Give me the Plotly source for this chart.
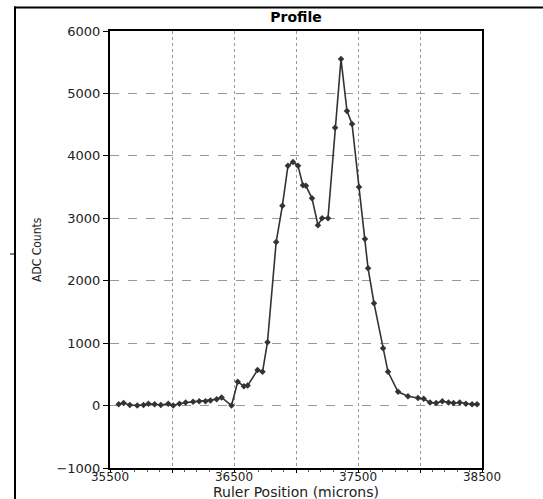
import plotly.graph_objects as go

# Data
position_um = [35570, 35610, 35660, 35720, 35770, 35810, 35860, 35910, 35970, 36010,
               36060, 36110, 36170, 36220, 36270, 36310, 36360, 36400, 36480, 36530,
               36580, 36610, 36690, 36730, 36770, 36840, 36890, 36935, 36976, 37016,
               37056, 37080, 37129, 37177, 37210, 37258, 37315, 37363, 37411, 37452,
               37508, 37556, 37581, 37629, 37702, 37742, 37823, 37903, 37984, 38030,
               38081, 38130, 38180, 38230, 38270, 38320, 38370, 38420, 38460]
adc_counts = [20, 40, 10, 0, 10, 30, 20, 10, 30, 0,
              30, 50, 60, 70, 70, 80, 100, 130, 0, 380,
              310, 320, 570, 540, 1015, 2620, 3200, 3840, 3900, 3840,
              3530, 3520, 3320, 2890, 3000, 3000, 4450, 5550, 4720, 4510,
              3500, 2670, 2200, 1640, 920, 540, 220, 150, 120, 110,
              50, 40, 70, 50, 40, 50, 30, 20, 20]

x_tickvals = [35500, 36000, 36500, 37000, 37500, 38000, 38500]
x_ticktext = ["35500", "", "36500", "", "37500", "", "38500"]
y_tickvals = [-1000, 0, 1000, 2000, 3000, 4000, 5000, 6000]

W, H = 543, 499
L, R, T, B = 110, 482, 31, 468

def px(x):
    return x / W

def py(y):
    return 1 - y / H

fig = go.Figure()
fig.add_trace(go.Scatter(
    x=position_um, y=adc_counts, mode="lines+markers",
    line=dict(color="#333333", width=1.6),
    marker=dict(symbol="diamond", size=5, color="#333333"),
    showlegend=False, hoverinfo="x+y"))

font = "DejaVu Sans, Verdana, sans-serif"
fig.update_layout(
    width=W, height=H,
    margin=dict(l=0, r=0, t=0, b=0, autoexpand=False),
    paper_bgcolor="white", plot_bgcolor="white",
    title=dict(text="<b>Profile</b>", x=296 / W, xanchor="center",
               y=1 - 17 / H, yanchor="middle",
               font=dict(family=font, size=14, color="black")),
    xaxis=dict(domain=[px(L), px(R)], range=[35500, 38500],
               tickvals=x_tickvals, ticktext=x_ticktext,
               showgrid=True, gridcolor="#999999", griddash="dot", gridwidth=1,
               ticks="outside", ticklen=3, tickcolor="black", tickwidth=1,
               ticklabelstandoff=-6,
               showline=True, linecolor="black", linewidth=2, mirror=True,
               tickfont=dict(family=font, size=12, color="#222222"),
               zeroline=False,
               minor=dict(dtick=100, tick0=35500, ticks="outside", ticklen=2,
                          tickcolor="#555555", showgrid=False)),
    yaxis=dict(domain=[py(B), py(T)], range=[-1000, 6000], tickvals=y_tickvals,
               showgrid=True, gridcolor="#999999", griddash="dash", gridwidth=1,
               ticks="outside", ticklen=5, tickcolor="black", tickwidth=1,
               showline=True, linecolor="black", linewidth=2, mirror=True,
               tickfont=dict(family=font, size=13, color="#222222"),
               zeroline=False),
    annotations=[
        dict(text="ADC Counts", textangle=-90, x=px(37), y=py(250), xref="paper", yref="paper",
             xanchor="center", yanchor="middle", showarrow=False,
             font=dict(family="Liberation Sans Narrow, DejaVu Sans Condensed, Arial Narrow, sans-serif",
                       size=12, color="#222222")),
        dict(text="Ruler Position (microns)", x=px(296), y=py(492), xref="paper", yref="paper",
             xanchor="center", yanchor="middle", showarrow=False,
             font=dict(family=font, size=14, color="#222222")),
    ],
    shapes=[
        dict(type="line", xref="paper", yref="paper", x0=px(14), x1=1, y0=py(7.5), y1=py(7.5),
             line=dict(color="black", width=2)),
        dict(type="line", xref="paper", yref="paper", x0=px(15), x1=px(15), y0=py(6.5), y1=0,
             line=dict(color="black", width=2)),
        dict(type="line", xref="paper", yref="paper", x0=px(10), x1=px(15), y0=py(254), y1=py(254),
             line=dict(color="black", width=1)),
    ],
)

fig.write_html("out.html", config={"displayModeBar": False},
               post_script="document.body.style.margin='0px';document.body.style.overflow='hidden';")
